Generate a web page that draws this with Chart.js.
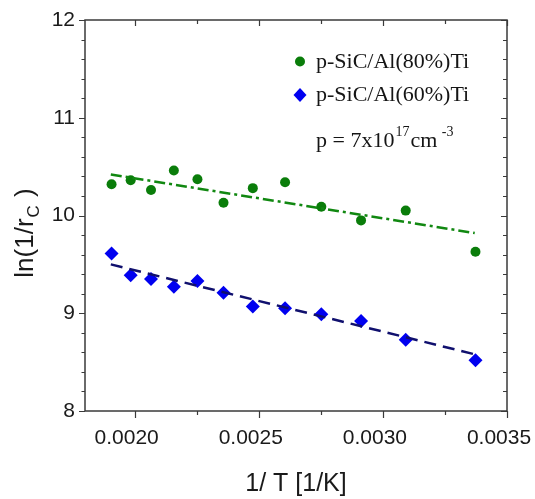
<!DOCTYPE html>
<html><head><meta charset="utf-8">
<script src="https://cdn.jsdelivr.net/npm/chart.js@4/dist/chart.umd.min.js"></script>
<style>html,body{margin:0;padding:0;background:#fff}canvas{display:block}</style>
</head><body>
<canvas id="c" width="535" height="499"></canvas>
<script>
// ---- data ----
const invT = [0.001907,0.001984,0.002066,0.002158,0.002253,0.002358,0.002476,0.002606,0.002752,0.002912,0.003092,0.003373];
const lnInvRc80 = [10.32,10.36,10.26,10.46,10.37,10.13,10.28,10.34,10.09,9.95,10.05,9.63];
const lnInvRc60 = [9.61,9.39,9.35,9.27,9.33,9.21,9.07,9.05,8.99,8.92,8.73,8.52];
const fitX = [0.001904, 0.00337];
const fit80 = [10.42, 9.82];
const fit60 = [9.50, 8.58];
const seriesNames = ['p-SiC/Al(80%)Ti', 'p-SiC/Al(60%)Ti'];
const xMajorTicks = [0.0020, 0.0025, 0.0030, 0.0035];
const xMinorTicks = [0.00225, 0.00275, 0.00325];
const yMajorTicks = [8, 9, 10, 11, 12];
const yMinorTicks = [8.2,8.4,8.6,8.8,9.2,9.4,9.6,9.8,10.2,10.4,10.6,10.8,11.2,11.4,11.6,11.8];
const xTitle = '1/ T [1/K]';
const yTitleParts = ['ln(1/r', 'C', ' )'];
const noteParts = ['p = 7x10', '17', 'cm', ' -3'];

const GREEN = '#0a7d0a', BLUE = '#0000f0', GREEN_LINE = '#118811', NAVY = '#10106e';
const toXY = (xs, ys) => xs.map((v, i) => ({x: v, y: ys[i]}));

const frameTicks = {
  id: 'frameTicks',
  afterDatasetsDraw(chart) {
    const {ctx, chartArea: a, scales: {x, y}} = chart;
    ctx.save();
    ctx.strokeStyle = '#3a3a3a';
    ctx.lineWidth = 1.5;
    ctx.strokeRect(a.left, a.top, a.right - a.left, a.bottom - a.top);
    ctx.lineWidth = 1.2;
    ctx.beginPath();
    const xt = (vals, out, inn) => vals.forEach(v => {
      const p = Math.round(x.getPixelForValue(v)) + 0.5;
      ctx.moveTo(p, a.bottom); ctx.lineTo(p, a.bottom + out);
      ctx.moveTo(p, a.top); ctx.lineTo(p, a.top + inn);
    });
    const yt = (vals, out, inn) => vals.forEach(v => {
      const p = Math.round(y.getPixelForValue(v)) + 0.5;
      ctx.moveTo(a.left, p); ctx.lineTo(a.left - out, p);
      ctx.moveTo(a.right, p); ctx.lineTo(a.right - inn, p);
    });
    xt(xMajorTicks, 7, 6); xt(xMinorTicks, 4, 4);
    yt(yMajorTicks, 6, 6); yt(yMinorTicks, 3.5, 4);
    ctx.stroke();
    ctx.restore();
  }
};

const annotations = {
  id: 'annotations',
  afterDraw(chart) {
    const {ctx, chartArea: a} = chart;
    const ds = chart.data.datasets;
    ctx.save();
    // legend markers
    ctx.fillStyle = ds[0].backgroundColor;
    ctx.beginPath(); ctx.arc(300, 61.5, 5, 0, Math.PI * 2); ctx.fill();
    ctx.fillStyle = ds[1].backgroundColor;
    ctx.beginPath();
    ctx.moveTo(300, 88); ctx.lineTo(306.5, 95); ctx.lineTo(300, 102); ctx.lineTo(293.5, 95); ctx.closePath();
    ctx.fill();
    // legend text
    ctx.fillStyle = '#151515';
    ctx.textAlign = 'left'; ctx.textBaseline = 'alphabetic';
    ctx.font = '22px "Liberation Serif"';
    ctx.fillText(ds[0].label, 316, 67.5);
    ctx.fillText(ds[1].label, 316, 101);
    // carrier concentration note
    let nx = 316;
    ctx.font = '22px "Liberation Serif"';
    ctx.fillText(noteParts[0], nx, 147); nx += ctx.measureText(noteParts[0]).width + 1;
    ctx.font = '14px "Liberation Serif"';
    ctx.fillText(noteParts[1], nx, 136); nx += ctx.measureText(noteParts[1]).width + 1;
    ctx.font = '22px "Liberation Serif"';
    ctx.fillText(noteParts[2], nx, 147); nx += ctx.measureText(noteParts[2]).width + 1;
    ctx.font = '14px "Liberation Serif"';
    ctx.fillText(noteParts[3], nx, 136);
    // x title
    ctx.fillStyle = '#1a1a1a';
    ctx.font = '25px "Liberation Sans"';
    ctx.textAlign = 'center'; ctx.textBaseline = 'middle';
    ctx.fillText(xTitle, (a.left + a.right) / 2, 484);
    // y title (rotated, with subscript)
    ctx.translate(24, 233);
    ctx.rotate(-Math.PI / 2);
    ctx.textAlign = 'left';
    const big = '26px "Liberation Sans"', small = '17px "Liberation Sans"';
    ctx.font = big; const w0 = ctx.measureText(yTitleParts[0]).width;
    ctx.font = small; const w1 = ctx.measureText(yTitleParts[1]).width;
    ctx.font = big; const w2 = ctx.measureText(yTitleParts[2]).width;
    let tx = -(w0 + w1 + w2 + 2) / 2;
    ctx.textBaseline = 'alphabetic';
    ctx.font = big; ctx.fillText(yTitleParts[0], tx, 9); tx += w0 + 1;
    ctx.font = small; ctx.fillText(yTitleParts[1], tx, 15); tx += w1 + 1;
    ctx.font = big; ctx.fillText(yTitleParts[2], tx, 9);
    ctx.restore();
  }
};

new Chart(document.getElementById('c'), {
  type: 'scatter',
  data: {
    datasets: [
      {label: seriesNames[0], data: toXY(invT, lnInvRc80), backgroundColor: GREEN, borderColor: GREEN,
       pointStyle: 'circle', pointRadius: 5, pointBorderWidth: 0, order: 2},
      {label: seriesNames[1], data: toXY(invT, lnInvRc60), backgroundColor: BLUE, borderColor: BLUE,
       pointStyle: 'rectRot', pointRadius: 7, pointBorderWidth: 0, order: 2},
      {label: 'fit80', data: toXY(fitX, fit80), showLine: true, borderColor: GREEN_LINE, borderWidth: 2.5,
       borderDash: [11, 4, 3, 4], pointRadius: 0, fill: false, order: 1},
      {label: 'fit60', data: toXY(fitX, fit60), showLine: true, borderColor: NAVY, borderWidth: 2.5,
       borderDash: [12, 7], pointRadius: 0, fill: false, order: 1}
    ]
  },
  options: {
    responsive: false,
    animation: false,
    devicePixelRatio: 1,
    layout: {padding: {left: 0, right: 28, top: 20, bottom: 0}},
    plugins: {legend: {display: false}, tooltip: {enabled: false}},
    scales: {
      x: {
        type: 'linear', min: 0.0018, max: 0.0035,
        grid: {display: false, drawTicks: false}, border: {display: false},
        afterBuildTicks: s => { s.ticks = xMajorTicks.map(v => ({value: v})); },
        afterFit: s => { s.height = 88; s.paddingLeft = 0; s.paddingRight = 0; },
        ticks: {padding: 15, labelOffset: -8, color: '#1a1a1a', maxRotation: 0, autoSkip: false,
                font: {family: 'Liberation Sans', size: 21}, callback: v => v.toFixed(4)}
      },
      y: {
        type: 'linear', min: 8, max: 12,
        grid: {display: false, drawTicks: false}, border: {display: false},
        afterBuildTicks: s => { s.ticks = yMajorTicks.map(v => ({value: v})); },
        afterFit: s => { s.width = 85; s.paddingTop = 0; s.paddingBottom = 0; },
        ticks: {padding: 10, color: '#1a1a1a', autoSkip: false,
                font: {family: 'Liberation Sans', size: 21}, callback: v => String(v)}
      }
    }
  },
  plugins: [frameTicks, annotations]
});
</script>
</body></html>
